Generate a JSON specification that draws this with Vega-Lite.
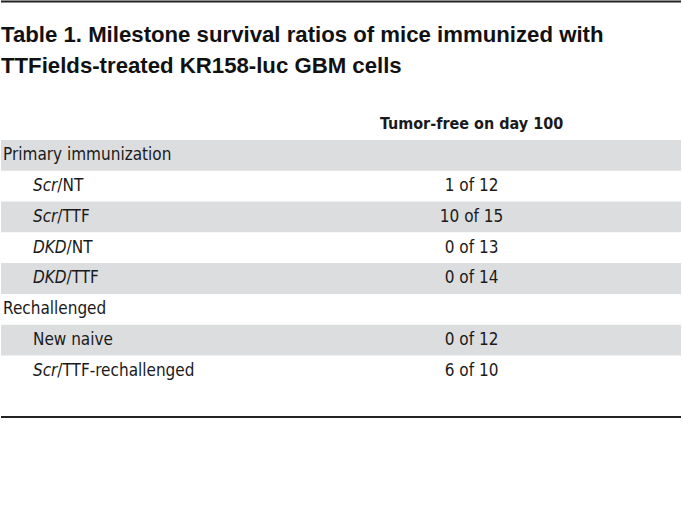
{
  "$schema": "https://vega.github.io/schema/vega-lite/v6.json",
  "width": 682,
  "height": 532,
  "autosize": {"type": "fit", "contains": "padding"},
  "padding": 0,
  "background": "white",
  "config": {"view": {"stroke": null}, "text": {"font": "DejaVu Sans Condensed", "fontSize": 17, "color": "#1a1a1a", "baseline": "middle"}},
  "data": {"values": [
    {"idx": 0, "label": "Primary immunization", "level": 0, "prefix": "", "rest": "Primary immunization", "value": ""},
    {"idx": 1, "label": "Scr/NT", "level": 1, "prefix": "Scr", "rest": "/NT", "value": "1 of 12"},
    {"idx": 2, "label": "Scr/TTF", "level": 1, "prefix": "Scr", "rest": "/TTF", "value": "10 of 15"},
    {"idx": 3, "label": "DKD/NT", "level": 1, "prefix": "DKD", "rest": "/NT", "value": "0 of 13"},
    {"idx": 4, "label": "DKD/TTF", "level": 1, "prefix": "DKD", "rest": "/TTF", "value": "0 of 14"},
    {"idx": 5, "label": "Rechallenged", "level": 0, "prefix": "", "rest": "Rechallenged", "value": ""},
    {"idx": 6, "label": "New naive", "level": 1, "prefix": "", "rest": "New naive", "value": "0 of 12"},
    {"idx": 7, "label": "Scr/TTF-rechallenged", "level": 1, "prefix": "Scr", "rest": "/TTF-rechallenged", "value": "6 of 10"}
  ]},
  "encoding": {
    "y": {"field": "label", "type": "nominal", "axis": null,
      "scale": {"type": "band", "domain": ["_rule", "_t1", "_t2", "_gap", "_header", "Primary immunization", "Scr/NT", "Scr/TTF", "DKD/NT", "DKD/TTF", "Rechallenged", "New naive", "Scr/TTF-rechallenged", "_end"], "range": [-13.9, 417], "paddingInner": 0, "paddingOuter": 0}}
  },
  "layer": [
    {
      "transform": [{"filter": "datum.idx % 2 == 0"}],
      "mark": {"type": "rect", "color": "#dcdddf"},
      "encoding": {
        "x": {"datum": 0, "type": "quantitative", "axis": null, "scale": {"domain": [0, 100], "nice": false, "zero": false}},
        "x2": {"datum": 100}
      }
    },
    {
      "data": {"values": [{"pos": "_rule"}]},
      "mark": {"type": "rule", "color": "#222222", "strokeWidth": 2},
      "encoding": {
        "y": {"field": "pos", "type": "nominal", "bandPosition": 0.5},
        "x": {"datum": 0, "type": "quantitative"},
        "x2": {"datum": 100}
      }
    },
    {
      "data": {"values": [{"pos": "_end"}]},
      "mark": {"type": "rule", "color": "#222222", "strokeWidth": 2},
      "encoding": {
        "y": {"field": "pos", "type": "nominal", "bandPosition": 1},
        "x": {"datum": 0, "type": "quantitative"},
        "x2": {"datum": 100}
      }
    },
    {
      "data": {"values": [
        {"pos": "_t1", "text": "Table 1. Milestone survival ratios of mice immunized with"},
        {"pos": "_t2", "text": "TTFields-treated KR158-luc GBM cells"}
      ]},
      "mark": {"type": "text", "font": "Liberation Sans", "fontWeight": "bold", "fontSize": 22.2, "align": "left", "color": "#111111", "dy": 3},
      "encoding": {
        "y": {"field": "pos", "type": "nominal"},
        "x": {"datum": 0, "type": "quantitative"},
        "text": {"field": "text"}
      }
    },
    {
      "data": {"values": [{"pos": "_header", "text": "Tumor-free on day 100"}]},
      "mark": {"type": "text", "fontWeight": "bold", "fontSize": 16, "align": "center", "dy": -1},
      "encoding": {
        "y": {"field": "pos", "type": "nominal"},
        "x": {"datum": 69.2, "type": "quantitative"},
        "text": {"field": "text"}
      }
    },
    {
      "transform": [{"filter": "datum.level == 0"}],
      "mark": {"type": "text", "align": "left"},
      "encoding": {
        "x": {"datum": 0.3, "type": "quantitative"},
        "text": {"field": "rest"}
      }
    },
    {
      "transform": [{"filter": "datum.prefix != ''"}],
      "mark": {"type": "text", "align": "left", "fontStyle": "italic"},
      "encoding": {
        "x": {"datum": 4.7, "type": "quantitative"},
        "text": {"field": "prefix"}
      }
    },
    {
      "transform": [{"filter": "datum.level == 1 && datum.prefix == ''"}],
      "mark": {"type": "text", "align": "left"},
      "encoding": {
        "x": {"datum": 4.7, "type": "quantitative"},
        "text": {"field": "rest"}
      }
    },
    {
      "transform": [{"filter": "datum.prefix == 'Scr'"}],
      "mark": {"type": "text", "align": "left", "dx": 24.4},
      "encoding": {
        "x": {"datum": 4.7, "type": "quantitative"},
        "text": {"field": "rest"}
      }
    },
    {
      "transform": [{"filter": "datum.prefix == 'DKD'"}],
      "mark": {"type": "text", "align": "left", "dx": 33.6},
      "encoding": {
        "x": {"datum": 4.7, "type": "quantitative"},
        "text": {"field": "rest"}
      }
    },
    {
      "mark": {"type": "text", "align": "center"},
      "encoding": {
        "x": {"datum": 69.2, "type": "quantitative"},
        "text": {"field": "value"}
      }
    }
  ]
}
